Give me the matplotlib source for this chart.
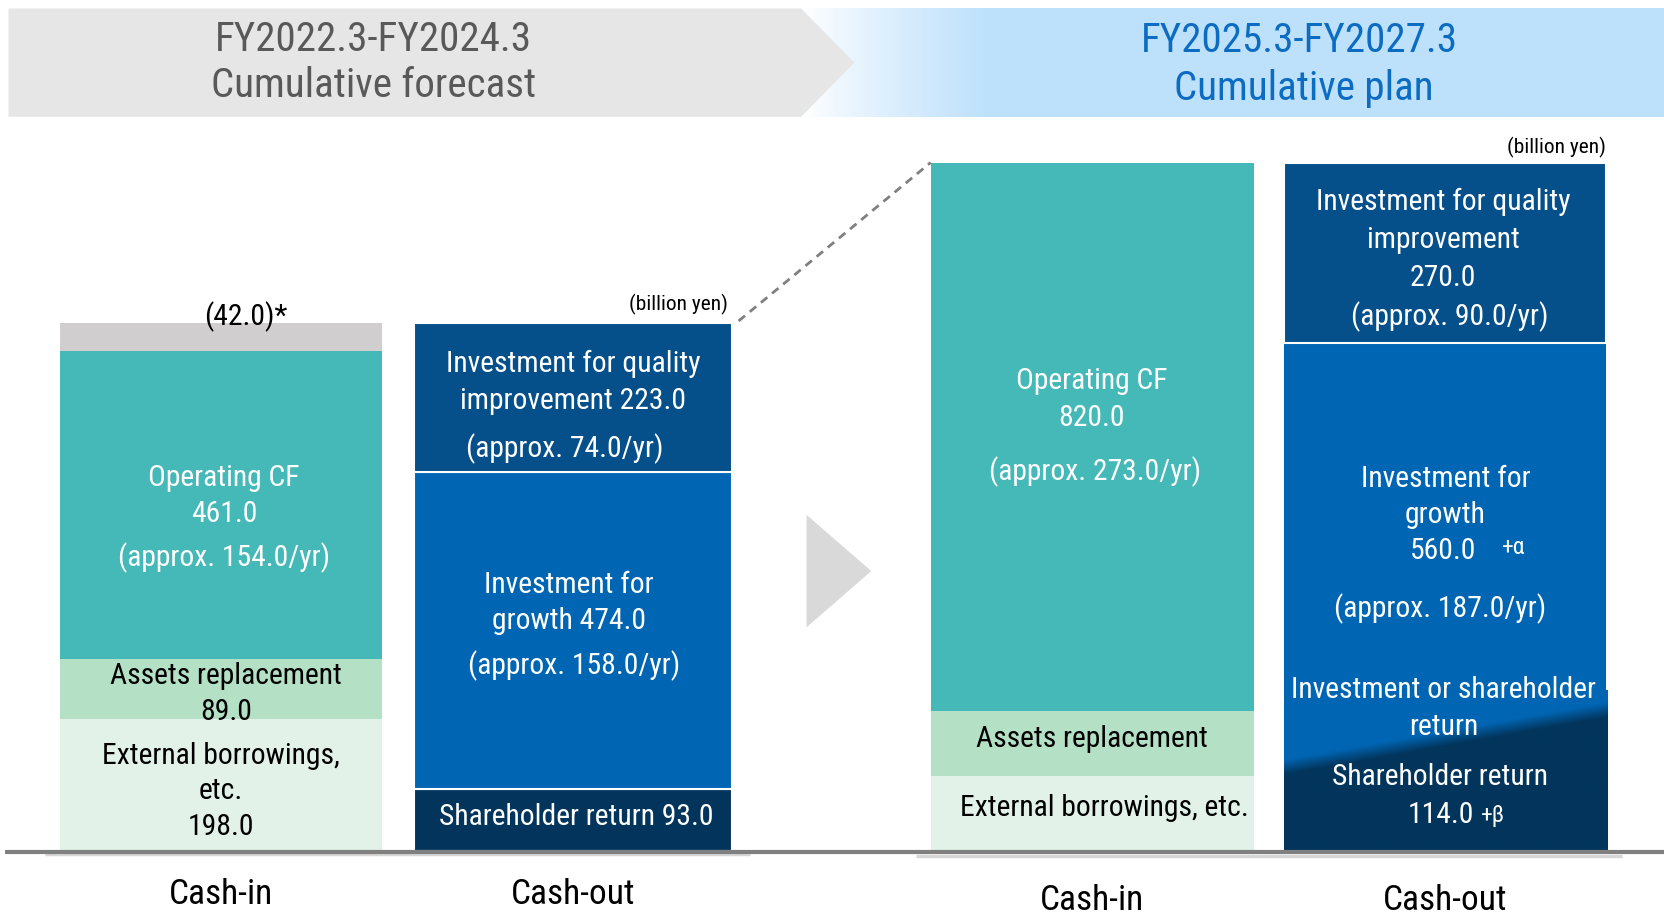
import numpy as np
import matplotlib
matplotlib.use('Agg')
import matplotlib.pyplot as plt
from matplotlib.patches import Polygon
from matplotlib.colors import to_rgb

plt.rcParams['font.family'] = ['Roboto Condensed', 'DejaVu Sans']

# values in billion yen, stacked bottom -> top
categories = ['Cash-in', 'Cash-out', 'Cash-in', 'Cash-out']
left_in_values = [198.0, 89.0, 461.0, 42.0]       # external, assets repl., operating CF, (42.0)*
left_out_values = [93.0, 474.0, 223.0]            # shareholder, growth, quality
right_in_values = [112.0, 98.0, 820.0]            # external (est.), assets repl. (est.), operating CF
right_out_values = [114.0, 86.0, 560.0, 270.0]    # shareholder, flexible (est.), growth, quality

TEAL = '#45B8B8'
MINT = '#B4E0C5'
PALE = '#E2F2E8'
GREY = '#D0CECE'
NAVY = '#054F8A'
BLUE = '#0065B3'
DARK = '#03355C'

W, H = 1568, 862
BASE = 802          # baseline, in layout px
S = 0.63            # layout px per billion yen

fig = plt.figure(figsize=(16.64, 9.15), dpi=100)
ax = fig.add_axes([0, 0, 1, 1])
ax.axis('off')

ov = fig.add_axes([0, 0, 1, 1], zorder=5)
ov.axis('off')
ov.patch.set_alpha(0)


def stack(x, w, values, colors, lws):
    bottom = 0
    for v, c, lw in zip(values, colors, lws):
        ax.bar(x, v, w, bottom=bottom, color=c, edgecolor='white', linewidth=lw, zorder=1)
        bottom += v
    return bottom


bars_x = [208.5, 540, 1029.5, 1361.5]
bars_w = [303, 300, 305, 303]

t_li = stack(bars_x[0], bars_w[0], left_in_values, [PALE, MINT, TEAL, GREY], [0, 0, 0, 0])
t_lo = stack(bars_x[1], bars_w[1], left_out_values, [DARK, BLUE, NAVY], [1.5, 1.5, 1.5])
t_ri = stack(bars_x[2], bars_w[2], right_in_values, [PALE, MINT, TEAL], [0, 0, 0])
t_ro = stack(bars_x[3], bars_w[3], right_out_values, [DARK, BLUE, BLUE, NAVY], [0, 0, 0, 1.5])

# diagonal split between shareholder return and flexible part
sh, fl = right_out_values[0], right_out_values[1]
x0 = bars_x[3] - bars_w[3] / 2
x1 = bars_x[3] + bars_w[3] / 2 + 2
ytop = sh + fl + 40
xs = np.linspace(x0, x1, 300)
ys = np.linspace(0, ytop, 300)
XX, YY = np.meshgrid(xs, ys)
yd = sh + fl * (XX - x0) / (x1 - x0)
t = np.clip((YY - yd) / 22.0, 0, 1)[..., None]
img = np.array(to_rgb(DARK)) * (1 - t) + np.array(to_rgb(BLUE)) * t
ax.imshow(img, extent=[x0, x1, 0, ytop], origin='lower', aspect='auto', zorder=2, interpolation='bilinear')

# dashed zoom line
ax.plot([bars_x[1] + bars_w[1] / 2 + 6, bars_x[2] - bars_w[2] / 2],
        [t_lo + 3, t_ri], ls=(0, (3, 2.2)), color='#808080', lw=2, zorder=3)

ax.set_xlim(0, W)
ax.set_ylim(-(H - BASE) / S, BASE / S)

# header
grad_x = np.linspace(755, W, 400)
g = np.clip((grad_x - 760) / 170.0, 0, 1) ** 0.8
blue_l = np.array(to_rgb('#BEE1FB'))
row = np.ones((1, 400, 3)) * (1 - g)[None, :, None] + blue_l[None, None, :] * g[None, :, None]
ov.imshow(row, extent=[755, W, 110, 8], aspect='auto', zorder=1)
ov.add_patch(Polygon([(8, 8), (755, 8), (805, 59), (755, 110), (8, 110)],
                     closed=True, facecolor='#E6E6E6', edgecolor='none', zorder=2))

ov.text(352, 37, 'FY2022.3-FY2024.3', ha='center', va='center', fontsize=29.5, color='#595959', zorder=3)
ov.text(352, 81, 'Cumulative forecast', ha='center', va='center', fontsize=29.5, color='#595959', zorder=3)
ov.text(1224, 38, 'FY2025.3-FY2027.3', ha='center', va='center', fontsize=29.5, color='#0B6CC2', zorder=3)
ov.text(1229, 83, 'Cumulative plan', ha='center', va='center', fontsize=29.5, color='#0B6CC2', zorder=3)

# middle arrow
ov.add_patch(Polygon([(760, 485), (821, 538), (760, 591)], closed=True,
                     facecolor='#D9D9D9', edgecolor='none'))

# baseline
ov.plot([42, 707], [805, 805], color='#D6D6D6', lw=2.5, solid_capstyle='butt')
ov.plot([863, 1528], [806, 806], color='#D6D6D6', lw=2.5, solid_capstyle='butt')
ov.plot([5, W], [802.5, 802.5], color='#808080', lw=3, solid_capstyle='butt')

ov.set_xlim(0, W)
ov.set_ylim(H, 0)


def T(x, y, s, size=21.3, color='white', **kw):
    ov.text(x, y, s, ha='center', va='center', fontsize=size, color=color, **kw)


# left cash-in
T(232, 298, '(42.0)*', color='black')
T(211, 450, 'Operating CF')
T(211, 484, '461.0')
T(211, 525, '(approx. 154.0/yr)')
T(213, 637, 'Assets replacement', color='black')
T(213, 671, '89.0', color='black')
T(208, 712, 'External borrowings,', color='black')
T(208, 745, 'etc.', color='black')
T(208, 779, '198.0', color='black')

# left cash-out
ov.text(686, 287, '(billion yen)', ha='right', va='center', fontsize=15.4, color='black')
T(540, 343, 'Investment for quality')
T(540, 378, 'improvement 223.0')
T(532, 423, '(approx. 74.0/yr)')
T(536, 551, 'Investment for')
T(536, 585, 'growth 474.0')
T(541, 627, '(approx. 158.0/yr)')
T(543, 770, 'Shareholder return 93.0')

# right cash-in
T(1029, 359, 'Operating CF')
T(1029, 394, '820.0')
T(1032, 444, '(approx. 273.0/yr)')
T(1029, 696, 'Assets replacement', color='black')
T(1041, 761, 'External borrowings, etc.', color='black')

# right cash-out
ov.text(1513, 139, '(billion yen)', ha='right', va='center', fontsize=15.4, color='black')
T(1360, 190, 'Investment for quality')
T(1360, 226, 'improvement')
T(1360, 262, '270.0')
T(1366, 298, '(approx. 90.0/yr)')
T(1362, 451, 'Investment for')
T(1362, 485, 'growth')
T(1360, 519, '560.0')
T(1426, 516, '+α', size=17)
T(1357, 573, '(approx. 187.0/yr)')
T(1360, 650, 'Investment or shareholder')
T(1360, 685, 'return')
T(1357, 732, 'Shareholder return')
T(1358, 768, '114.0')
T(1407, 768, '+β', size=17)

# category labels
for cx, cy, lab in zip([208, 540, 1029, 1362], [843, 843, 848, 848], categories):
    T(cx, cy, lab, size=25.5, color='black')

fig.savefig('out.png', dpi=100)
